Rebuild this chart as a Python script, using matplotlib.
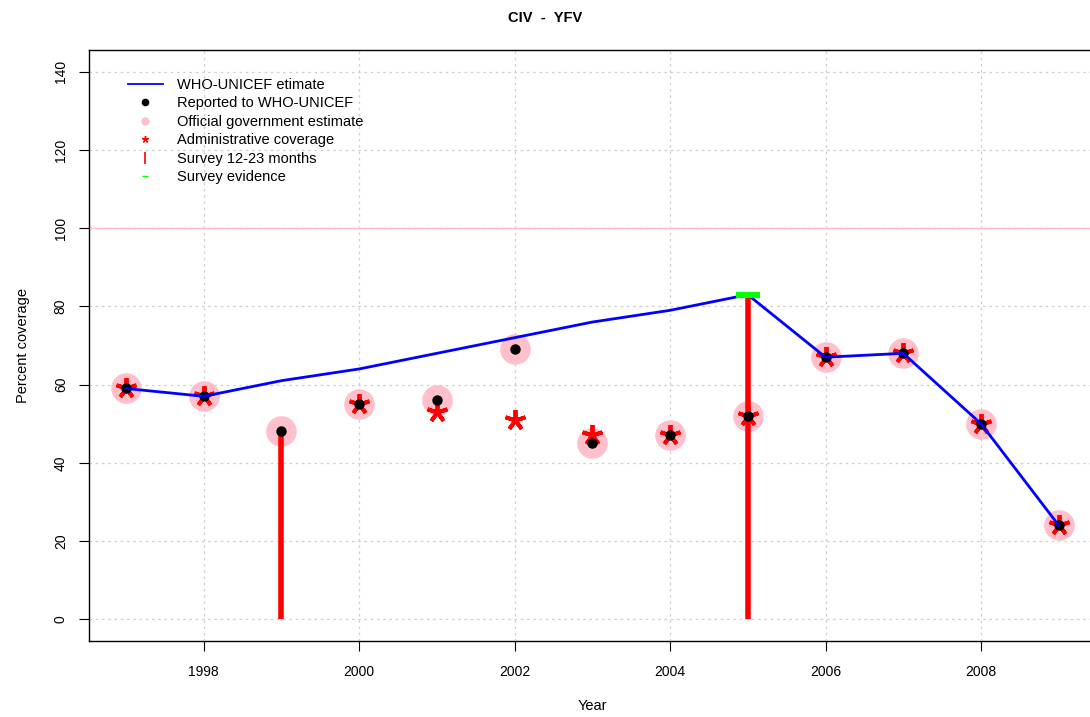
import matplotlib
matplotlib.use("Agg")
import matplotlib.pyplot as plt
from matplotlib.lines import Line2D

plt.rcParams['font.family'] = ['Liberation Sans', 'DejaVu Sans']

years = [1997, 1998, 1999, 2000, 2001, 2002, 2003, 2004, 2005, 2006, 2007, 2008, 2009]
who_unicef = [59, 57, 61, 64, 68, 72, 76, 79, 83, 67, 68, 50, 24]
reported = [59, 57, 48, 55, 56, 69, 45, 47, 52, 67, 68, 50, 24]
official = [59, 57, 48, 55, 56, 69, 45, 47, 52, 67, 68, 50, 24]
admin_years = [1997, 1998, 2000, 2001, 2002, 2003, 2004, 2005, 2006, 2007, 2008, 2009]
admin = [59, 57, 55, 53, 51, 47, 47, 52, 67, 68, 50, 24]
survey_years = [1999, 2005]
survey_vals = [48, 83]
evidence_years = [2005]
evidence_vals = [83]

fig = plt.figure(figsize=(10.9, 7.17), dpi=100)
ax = fig.add_axes([88.7/1090, 76/717, (1096-88.7)/1090, (641-50)/717])
ax.set_xlim(1996.52, 2009.48)
ax.set_ylim(-5.6, 145.6)

# grid
for xv in range(1998, 2009, 2):
    ax.axvline(xv, color='#cfcfcf', lw=0.9, ls=(0, (2, 3)), zorder=0)
for yv in range(0, 141, 20):
    ax.axhline(yv, color='#cfcfcf', lw=0.9, ls=(0, (2, 3)), zorder=0)
ax.axhline(100, color='#ffc0cb', lw=1.0, zorder=1)

ax.plot(years, official, 'o', color='#ffc0cb', ms=22, mec='none', zorder=2)
ax.plot(admin_years, admin, ls='none', marker=(5, 2, 0), color='red', ms=15, mew=2.8, zorder=3)
ax.vlines(survey_years, 0, survey_vals, color='red', lw=4, zorder=4)
ax.plot(years, reported, 'o', color='black', ms=6.5, zorder=5)
ax.plot(years, who_unicef, '-', color='blue', lw=2, zorder=6)
ax.plot(evidence_years, evidence_vals, ls='none', marker='_', color='#00ff00', ms=17, mew=4.5, zorder=7)

ax.set_xticks(range(1998, 2009, 2))
ax.set_yticks(range(0, 141, 20))
ax.tick_params(axis='both', labelsize=10, length=7, width=0.8, colors='black')
ax.tick_params(axis='x', pad=10)
ax.tick_params(axis='y', pad=8)
for lab in ax.get_yticklabels():
    lab.set_rotation(90)
    lab.set_va('center')
for s in ax.spines.values():
    s.set_linewidth(1.0)

ax.set_xlabel('Year', fontsize=10.5, labelpad=15)
ax.set_ylabel('Percent coverage', fontsize=10.5, labelpad=17)
fig.text(0.5, 1 - 18/717, 'CIV  -  YFV', ha='center', va='center', fontsize=10.5, fontweight='bold')

handles = [
    Line2D([], [], color='blue', lw=1.3),
    Line2D([], [], ls='none', marker='o', color='black', ms=4.5),
    Line2D([], [], ls='none', marker='o', color='#ffc0cb', ms=5),
    Line2D([], [], ls='none', marker=(5, 2, 0), color='red', ms=5, mew=1),
    Line2D([], [], ls='none', marker='|', color='red', ms=9, mew=1.2),
    Line2D([], [], ls='none', marker='_', color='#00ff00', ms=4, mew=1),
]
labels = ['WHO-UNICEF etimate', 'Reported to WHO-UNICEF', 'Official government estimate',
          'Administrative coverage', 'Survey 12-23 months', 'Survey evidence']
leg = ax.legend(handles, labels, loc='upper left', bbox_to_anchor=(0.033, 0.963), frameon=False,
                fontsize=10.5, handlelength=2.4, labelspacing=0.31, handletextpad=1.0, borderaxespad=0)

fig.savefig('out.png', dpi=100)
